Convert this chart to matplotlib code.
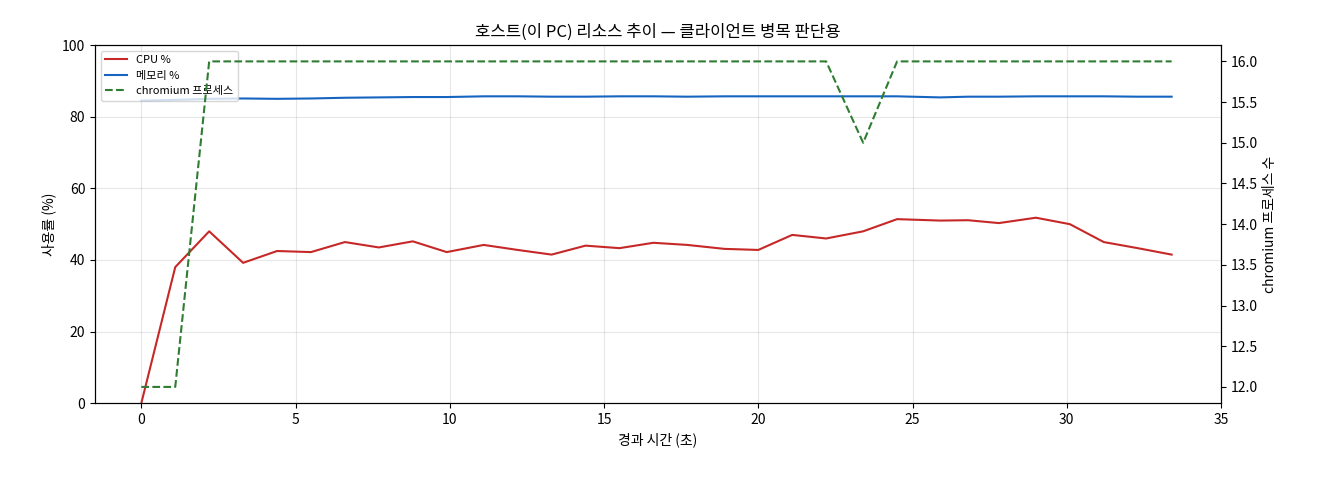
import matplotlib
matplotlib.use("Agg")
import matplotlib.pyplot as plt

plt.rcParams['font.family'] = ['Noto Sans CJK KR', 'DejaVu Sans']

t = [0, 1.1, 2.2, 3.3, 4.4, 5.5, 6.6, 7.7, 8.8, 9.9, 11.1, 12.2, 13.3, 14.4, 15.5, 16.6,
     17.7, 18.9, 20.0, 21.1, 22.2, 23.4, 24.5, 25.9, 26.8, 27.8, 29.0, 30.1, 31.2, 32.3, 33.4]
cpu = [0, 38, 48, 39.2, 42.5, 42.2, 45, 43.5, 45.2, 42.2, 44.2, 42.8, 41.5, 44, 43.3, 44.8,
       44.2, 43.1, 42.8, 47, 46, 48, 51.4, 51, 51.1, 50.3, 51.8, 50, 45, 43.3, 41.5]
mem = [84.5, 84.7, 85.0, 85.1, 85.0, 85.1, 85.3, 85.4, 85.5, 85.5, 85.7, 85.7, 85.6, 85.6, 85.7, 85.7,
       85.6, 85.7, 85.7, 85.7, 85.7, 85.7, 85.7, 85.4, 85.6, 85.6, 85.7, 85.7, 85.7, 85.6, 85.6]
procs = [12, 12, 16, 16, 16, 16, 16, 16, 16, 16, 16, 16, 16, 16, 16, 16,
         16, 16, 16, 16, 16, 15, 16, 16, 16, 16, 16, 16, 16, 16, 16]

fig, ax = plt.subplots(figsize=(13.2, 4.8), dpi=100)
l1, = ax.plot(t, cpu, color='#c62828', lw=1.5, label='CPU %')
l2, = ax.plot(t, mem, color='#1565c0', lw=1.5, label='메모리 %')
ax.set_ylim(0, 100)
ax.set_xlim(-1.5, 35)
ax.set_xlabel('경과 시간 (초)')
ax.set_ylabel('사용률 (%)')
ax.grid(True, alpha=0.3)
ax2 = ax.twinx()
l3, = ax2.plot(t, procs, color='#2e7d32', lw=1.5, ls='--', label='chromium 프로세스')
ax2.set_ylim(11.8, 16.2)
ax2.set_ylabel('chromium 프로세스 수')
ax.legend(handles=[l1, l2, l3], loc='upper left', fontsize=8)
ax.set_title('호스트(이 PC) 리소스 추이 — 클라이언트 병목 판단용')
fig.subplots_adjust(left=0.072, right=0.925, top=0.906, bottom=0.16)
fig.savefig('out.png')
